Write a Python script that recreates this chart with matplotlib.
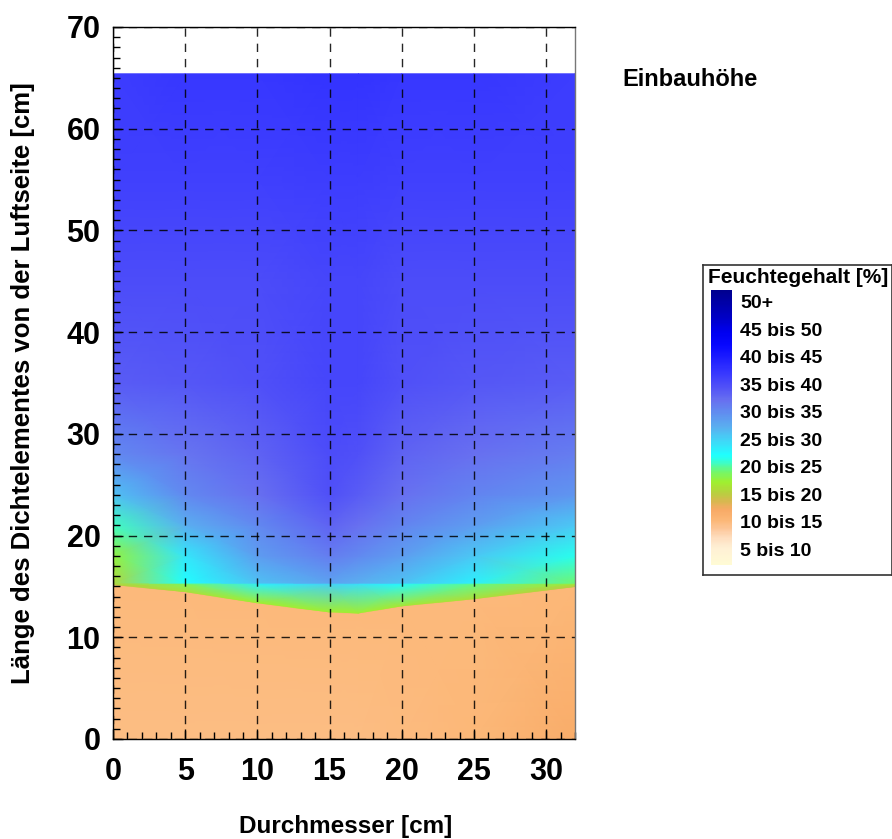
import numpy as np
import matplotlib
matplotlib.use("Agg")
import matplotlib.pyplot as plt
from matplotlib.colors import LinearSegmentedColormap, Normalize
from matplotlib.ticker import MultipleLocator
from matplotlib import font_manager

plt.rcParams["font.family"] = ["Liberation Sans", "DejaVu Sans"]
plt.rcParams["font.weight"] = "bold"

names = {f.name for f in font_manager.fontManager.ttflist}
NARROW = "Liberation Sans Narrow" if "Liberation Sans Narrow" in names else "Liberation Sans"

# --- data -------------------------------------------------------------
# diameter positions of the mesh columns [cm]
diameter = [0, 5, 10, 15, 17, 20, 25, 32]
# upper edge of the dry zone for every column [cm]
wet_front = [15.2, 14.5, 13.4, 12.5, 12.4, 13.1, 13.8, 15.0]
# mesh levels above the front [cm]
upper_levels = [15.25, 15.35, 18, 21, 24, 28, 35, 45, 55, 65.4]

# moisture content [%] per mesh row (bottom -> top) and column
moisture = [
    [12.6, 12.5, 12.5, 12.5, 12.6, 12.8, 13.1, 14.6],   # y = 0
    [13.0, 13.0, 13.0, 13.0, 13.0, 13.0, 13.0, 13.2],   # just below front
    [18.0, 19.0, 20.0, 20.0, 20.0, 19.5, 19.0, 18.0],   # front
    [18.5, 21.5, 26.0, 28.0, 27.0, 25.5, 22.5, 19.5],   # 15.25
    [18.5, 25.0, 29.0, 31.0, 30.0, 29.0, 26.0, 22.0],   # 15.35
    [20.5, 26.5, 31.5, 34.0, 33.0, 31.5, 28.5, 24.5],   # 18
    [23.5, 30.0, 33.0, 36.0, 35.0, 33.5, 31.5, 28.5],   # 21
    [29.0, 33.0, 35.0, 37.5, 36.5, 35.0, 33.5, 32.0],   # 24
    [33.0, 34.5, 36.0, 38.0, 37.5, 36.0, 35.0, 34.0],   # 28
    [36.5, 37.0, 37.5, 38.5, 38.5, 37.5, 37.0, 36.5],   # 35
    [38.0, 38.0, 38.0, 38.5, 38.5, 38.0, 38.0, 38.0],   # 45
    [39.0, 39.0, 39.0, 39.5, 39.5, 39.0, 39.0, 39.0],   # 55
    [39.5, 40.0, 40.0, 40.5, 40.5, 40.0, 40.0, 39.5],   # 65.4
]

legend_labels = ["50+", "45 bis 50", "40 bis 45", "35 bis 40", "30 bis 35",
                 "25 bis 30", "20 bis 25", "15 bis 20", "10 bis 15", "5 bis 10"]

# --- colour scale -----------------------------------------------------
vmin, vmax = 5, 55
stops = [
    (5, "#fffbd5"), (8, "#fff0d5"), (10, "#fedcbc"), (11.5, "#fdc697"),
    (13, "#fcb878"), (15, "#f8aa66"), (16.5, "#d8b850"), (18, "#b8d040"),
    (20, "#a0f030"), (22, "#70f870"), (24, "#30ffe0"), (25, "#20ffff"),
    (27.5, "#40d8f8"), (30, "#5ab0f0"), (32.5, "#6090f0"), (35, "#6870f0"),
    (37.5, "#5050f8"), (40, "#3838ff"), (42.5, "#2020ff"), (45, "#0808ff"),
    (47.5, "#0000f0"), (50, "#0000c8"), (55, "#000090"),
]
cmap = LinearSegmentedColormap.from_list(
    "feuchte", [((v - vmin) / (vmax - vmin), c) for v, c in stops])
norm = Normalize(vmin, vmax)

# --- curvilinear mesh -------------------------------------------------
X, Y = [], []
for xc, front in zip(diameter, wet_front):
    col = [0.0, front - 0.05, front] + list(upper_levels)
    Y.append(col)
    X.append([xc] * len(col))
X = np.array(X).T
Y = np.array(Y).T
C = np.array(moisture)

fig = plt.figure(figsize=(8.92, 8.39), dpi=100)
ax = fig.add_axes([113 / 892, 1 - 739 / 839, 462 / 892, 712 / 839])
ax.pcolormesh(X, Y, C, cmap=cmap, norm=norm, shading="gouraud", zorder=1)

ax.set_xlim(0, 32)
ax.set_ylim(0, 70)
ax.xaxis.set_major_locator(MultipleLocator(5))
ax.xaxis.set_minor_locator(MultipleLocator(1))
ax.yaxis.set_major_locator(MultipleLocator(10))
ax.yaxis.set_minor_locator(MultipleLocator(1))
ax.tick_params(which="both", direction="in", top=False, right=False,
               width=1.0, color="black")
ax.tick_params(which="major", length=7)
ax.tick_params(which="minor", length=5)
ax.tick_params(axis="x", which="major", pad=13)
ax.tick_params(axis="y", which="major", pad=9)
for lbl in ax.get_xticklabels() + ax.get_yticklabels():
    lbl.set_fontfamily([NARROW, "DejaVu Sans"])
    lbl.set_fontsize(22)
    lbl.set_fontweight("bold")
ax.grid(True, which="major", color="black", linestyle=(0, (6, 5)),
        linewidth=1.0, alpha=0.85)
for side in ax.spines.values():
    side.set_linewidth(1.0)
ax.spines["right"].set_color("#777777")

ax.set_ylabel("Länge des Dichtelementes von der Luftseite [cm]",
              fontsize=18.5, fontweight="bold")
ax.yaxis.set_label_coords(-(113 - 35) / 462, (739 - 383) / 712)
fig.text(346 / 892, 1 - 826 / 839, "Durchmesser [cm]", fontsize=17.5,
         fontweight="bold", va="center", ha="center")

fig.text(622 / 892, 1 - 80 / 839, "Einbauhöhe", fontsize=17,
         fontweight="bold", va="center", ha="left")

# --- legend box with colour strip -------------------------------------
box = fig.add_axes([703 / 892, 1 - 575 / 839, 189 / 892, 310 / 839])
box.set_xticks([])
box.set_yticks([])
for side in box.spines.values():
    side.set_linewidth(1.2)
    side.set_color("#333333")
box.text(5 / 189, 1 - 3 / 310, "Feuchtegehalt [%]", transform=box.transAxes,
         fontsize=15, fontweight="bold", va="top", ha="left")

strip = fig.add_axes([711 / 892, 1 - 565 / 839, 21 / 892, 275 / 839])
grad = np.linspace(vmin, vmax, 300).reshape(-1, 1)
strip.imshow(grad, cmap=cmap, norm=norm, aspect="auto", origin="lower",
             extent=[0, 1, vmin, vmax])
strip.set_axis_off()

n = len(legend_labels)
for i, lab in enumerate(legend_labels):
    yc = 290 + (i + 0.5) * 275 / n
    fig.text(740 / 892, 1 - yc / 839, lab, fontsize=14, fontweight="bold",
             va="center", ha="left")

fig.savefig("out.png", dpi=100)
